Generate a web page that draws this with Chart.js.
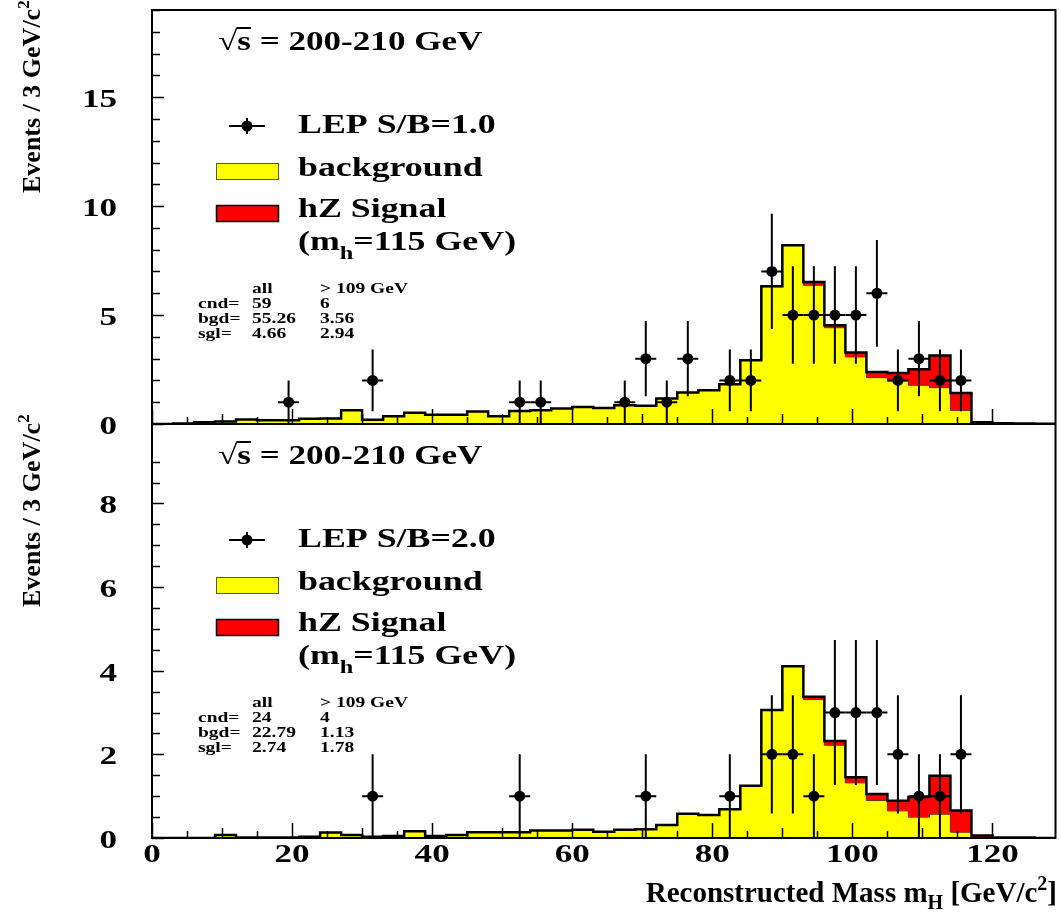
<!DOCTYPE html>
<html>
<head>
<meta charset="utf-8">
<script src="https://cdn.jsdelivr.net/npm/chart.js@4.4.1/dist/chart.umd.min.js"></script>
<style>
  html, body { margin: 0; padding: 0; background: #fff; }
</style>
</head>
<body>
<canvas id="mass" width="1061" height="913"></canvas>
<script>
// left edges of the 3 GeV mass bins
const binLow = [0, 3, 6, 9, 12, 15, 18, 21, 24, 27, 30, 33, 36, 39, 42, 45, 48, 51, 54, 57,
  60, 63, 66, 69, 72, 75, 78, 81, 84, 87, 90, 93, 96, 99, 102, 105, 108, 111, 114, 117,
  120, 123, 126];
const binWidth = 3;

// S/B = 1.0 selection
const bgTop = [0, 0.02, 0.08, 0.12, 0.21, 0.17, 0.17, 0.24, 0.25, 0.63, 0.20, 0.35, 0.52, 0.43, 0.43, 0.57, 0.35, 0.60, 0.63, 0.71,
  0.78, 0.73, 0.86, 0.84, 1.17, 1.44, 1.55, 1.82, 2.92, 6.30, 8.20, 6.37, 4.42, 3.08, 2.13, 1.98, 1.78, 1.67, 0.63, 0.05,
  0.03, 0.02, 0.01];
const sigTop = [0, 0, 0, 0, 0, 0, 0, 0, 0, 0, 0, 0, 0, 0, 0, 0, 0, 0, 0, 0,
  0, 0, 0, 0, 0, 0, 0, 0, 0, 0.02, 0, 0.15, 0.11, 0.20, 0.26, 0.36, 0.73, 1.47, 0.79, 0.03,
  0, 0, 0];
const candMassTop = [19.5, 31.5, 52.5, 55.5, 67.5, 70.5, 73.5, 76.5, 82.5, 85.5, 88.5, 91.5, 94.5, 97.5, 100.5, 103.5, 106.5, 109.5, 112.5, 115.5];
const candTop = [1, 2, 1, 1, 1, 3, 1, 3, 2, 2, 7, 5, 5, 5, 5, 6, 2, 3, 2, 2];

// S/B = 2.0 selection
const bgBot = [0, 0, 0, 0.07, 0.01, 0.01, 0.01, 0.03, 0.13, 0.07, 0.03, 0.05, 0.16, 0.05, 0.07, 0.14, 0.14, 0.14, 0.18, 0.18,
  0.20, 0.15, 0.20, 0.21, 0.31, 0.58, 0.55, 0.69, 1.25, 3.06, 4.11, 3.31, 2.22, 1.32, 0.90, 0.65, 0.50, 0.57, 0.14, 0.02,
  0.01, 0.01, 0];
const sigBot = [0, 0, 0, 0, 0, 0, 0, 0, 0, 0, 0, 0, 0, 0, 0, 0, 0, 0, 0, 0,
  0, 0, 0, 0, 0, 0, 0, 0, 0, 0, 0, 0.07, 0.10, 0.13, 0.15, 0.24, 0.48, 0.92, 0.52, 0.04,
  0, 0, 0];
const candMassBot = [31.5, 52.5, 70.5, 82.5, 88.5, 91.5, 94.5, 97.5, 100.5, 103.5, 106.5, 109.5, 112.5, 115.5];
const candBot = [1, 1, 1, 1, 2, 2, 1, 3, 3, 3, 2, 1, 1, 2];

// text blocks
const sbLabels = ['LEP S/B=1.0', 'LEP S/B=2.0'];
const statNames = ['cnd=', 'bgd=', 'sgl='];
const statHead = ['all', '> 109 GeV'];
const statsTop = [['59', '6'], ['55.26', '3.56'], ['4.66', '2.94']];
const statsBot = [['24', '4'], ['22.79', '1.13'], ['2.74', '1.78']];

const YELLOW = '#ffff00';
const RED = '#ff0000';
const SX = 1.3;   // horizontal stretch of the serif labels

function font(size) {
  return 'bold ' + size + 'px "Liberation Serif", "Times New Roman", serif';
}

// draws a run of [text, size, dy] pieces, returns where each piece went
function drawParts(ctx, parts, x, y, sx, align) {
  let w = 0;
  parts.forEach(p => { ctx.font = font(p[1]); w += ctx.measureText(p[0]).width * sx; });
  let cx = align === 'right' ? x - w : align === 'center' ? x - w / 2 : x;
  const starts = [];
  parts.forEach(p => {
    ctx.font = font(p[1]);
    const pw = ctx.measureText(p[0]).width * sx;
    starts.push([cx, pw]);
    ctx.save();
    ctx.translate(cx, y + (p[2] || 0));
    ctx.scale(sx, 1);
    ctx.textAlign = 'left';
    ctx.textBaseline = 'alphabetic';
    ctx.fillText(p[0], 0, 0);
    ctx.restore();
    cx += pw;
  });
  return starts;
}

function steps(vals) {
  const pts = binLow.map((x, i) => ({x: x, y: vals[i]}));
  pts.push({x: binLow[binLow.length - 1] + binWidth, y: vals[vals.length - 1]});
  return pts;
}

const totTop = bgTop.map((v, i) => v + sigTop[i]);
const totBot = bgBot.map((v, i) => v + sigBot[i]);

function histo(vals, axis, color, lineColor, lineWidth, fill) {
  return {
    data: steps(vals), yAxisID: axis, stepped: true, pointRadius: 0,
    borderColor: lineColor, borderWidth: lineWidth, backgroundColor: color, fill: fill
  };
}

function cands(xs, ns, axis) {
  return {
    data: xs.map((x, i) => ({x: x, y: ns[i]})), yAxisID: axis, showLine: false,
    pointRadius: 5.5, pointBackgroundColor: '#000', pointBorderWidth: 0, errorBars: true
  };
}

// sqrt(n) vertical bars and bin-width horizontal bars on the candidates
const errorBarPlugin = {
  id: 'errorBars',
  afterDatasetsDraw(chart) {
    const ctx = chart.ctx;
    const xs = chart.scales.x;
    ctx.save();
    ctx.strokeStyle = '#000';
    ctx.lineWidth = 2;
    chart.data.datasets.forEach(ds => {
      if (!ds.errorBars) return;
      const ys = chart.scales[ds.yAxisID];
      ds.data.forEach(p => {
        const e = Math.sqrt(p.y);
        ctx.beginPath();
        ctx.moveTo(xs.getPixelForValue(p.x), ys.getPixelForValue(p.y - e));
        ctx.lineTo(xs.getPixelForValue(p.x), ys.getPixelForValue(p.y + e));
        ctx.moveTo(xs.getPixelForValue(p.x - binWidth / 2), ys.getPixelForValue(p.y));
        ctx.lineTo(xs.getPixelForValue(p.x + binWidth / 2), ys.getPixelForValue(p.y));
        ctx.stroke();
      });
    });
    ctx.restore();
  }
};

function drawPanelText(ctx, top, sb, stats) {
  ctx.fillStyle = '#000';
  // sqrt(s) line
  const s = drawParts(ctx, [['\u221As', 27], [' = 200-210 GeV', 27]], 218, top + 40, SX, 'left');
  ctx.font = font(27);
  const rootW = ctx.measureText('\u221A').width * SX;
  ctx.lineWidth = 2;
  ctx.beginPath();
  ctx.moveTo(s[0][0] + rootW - 1, top + 18);
  ctx.lineTo(s[0][0] + s[0][1], top + 18);
  ctx.stroke();

  // legend: candidates marker
  const my = top + 116;
  ctx.strokeStyle = '#000';
  ctx.lineWidth = 2;
  ctx.beginPath();
  ctx.moveTo(229, my); ctx.lineTo(265, my);
  ctx.moveTo(247, my - 8); ctx.lineTo(247, my + 8);
  ctx.stroke();
  ctx.beginPath();
  ctx.arc(247, my, 5.5, 0, Math.PI * 2);
  ctx.fill();
  drawParts(ctx, [[sb, 28]], 298, top + 123, 1.28, 'left');

  // legend: background box
  ctx.fillStyle = YELLOW;
  ctx.fillRect(216, top + 153, 63, 17);
  ctx.strokeStyle = '#555';
  ctx.lineWidth = 1;
  ctx.strokeRect(216.5, top + 153.5, 62, 16);
  ctx.fillStyle = '#000';
  drawParts(ctx, [['background', 28]], 298, top + 166, 1.28, 'left');

  // legend: signal box
  ctx.fillStyle = RED;
  ctx.fillRect(216, top + 195, 63, 17);
  ctx.strokeStyle = '#000';
  ctx.lineWidth = 1.5;
  ctx.strokeRect(216.5, top + 195.5, 62, 16);
  ctx.fillStyle = '#000';
  drawParts(ctx, [['hZ Signal', 28]], 298, top + 207, 1.28, 'left');
  drawParts(ctx, [['(m', 28], ['h', 19, 9], ['=115 GeV)', 28]], 298, top + 240, 1.28, 'left');

  // event count table
  drawParts(ctx, [[statHead[0], 15]], 252, top + 283, SX, 'left');
  drawParts(ctx, [[statHead[1], 15]], 320, top + 283, SX, 'left');
  statNames.forEach((name, r) => {
    const y = top + 298 + r * 15;
    drawParts(ctx, [[name, 15]], 198, y, SX, 'left');
    drawParts(ctx, [[stats[r][0], 15]], 252, y, SX, 'left');
    drawParts(ctx, [[stats[r][1], 15]], 320, y, SX, 'left');
  });
}

const framePlugin = {
  id: 'frame',
  afterDraw(chart) {
    const ctx = chart.ctx;
    const xs = chart.scales.x;
    const yt = chart.scales.yTop;
    const yb = chart.scales.yBot;
    const area = chart.chartArea;
    ctx.save();
    ctx.strokeStyle = '#000';
    ctx.fillStyle = '#000';

    // x ticks on the bottom edge of each panel
    ctx.lineWidth = 1.5;
    [yt, yb].forEach(ys => {
      xs.ticks.forEach(t => {
        if (t.value % 5 !== 0) return;
        const px = Math.round(xs.getPixelForValue(t.value)) + 0.5;
        const len = t.value % 20 === 0 ? 15 : (t.value % 10 === 0 ? 10 : 7);
        ctx.beginPath();
        ctx.moveTo(px, ys.bottom);
        ctx.lineTo(px, ys.bottom - len);
        ctx.stroke();
      });
    });

    // y ticks and labels
    [[yt, 1, 5], [yb, 0.5, 2]].forEach(([ys, minor, major]) => {
      ys.ticks.forEach(t => {
        const v = Math.round(t.value * 100) / 100;
        if (Math.abs(v / minor - Math.round(v / minor)) > 1e-6) return;
        const py = Math.round(ys.getPixelForValue(v)) + 0.5;
        const isMajor = Math.abs(v / major - Math.round(v / major)) < 1e-6;
        ctx.beginPath();
        ctx.moveTo(area.left, py);
        ctx.lineTo(area.left + (isMajor ? 12 : 8), py);
        ctx.stroke();
        if (isMajor) drawParts(ctx, [[String(v), 26]], 117, py + 9, 1.35, 'right');
      });
    });

    // x tick labels
    xs.ticks.forEach(t => {
      if (t.value % 20 !== 0) return;
      drawParts(ctx, [[String(t.value), 26]], xs.getPixelForValue(t.value), 862, 1.35, 'center');
    });

    // frame and panel divider
    ctx.lineWidth = 2;
    ctx.strokeRect(area.left, area.top, area.right - area.left, area.bottom - area.top);
    ctx.beginPath();
    ctx.moveTo(area.left, yt.bottom);
    ctx.lineTo(area.right, yt.bottom);
    ctx.stroke();

    // axis titles
    drawParts(ctx, [['Reconstructed Mass m', 29], ['H', 20, 7], [' [GeV/c', 29], ['2', 20, -12], [']', 29]], 1057, 902, 1, 'right');
    [yt, yb].forEach(ys => {
      ctx.save();
      ctx.translate(40, ys.bottom - 231);
      ctx.rotate(-Math.PI / 2);
      drawParts(ctx, [['Events / 3 GeV/c', 26], ['2', 17, -11]], 0, 0, 1, 'left');
      ctx.restore();
    });

    drawPanelText(ctx, yt.top, sbLabels[0], statsTop);
    drawPanelText(ctx, yb.top, sbLabels[1], statsBot);
    ctx.restore();
  }
};

new Chart(document.getElementById('mass').getContext('2d'), {
  type: 'line',
  data: {
    datasets: [
      cands(candMassTop, candTop, 'yTop'),
      cands(candMassBot, candBot, 'yBot'),
      histo(totTop, 'yTop', RED, '#000', 2.5, '+1'),
      histo(bgTop, 'yTop', YELLOW, '#222', 1, 'origin'),
      histo(totBot, 'yBot', RED, '#000', 2.5, '+1'),
      histo(bgBot, 'yBot', YELLOW, '#222', 1, 'origin')
    ]
  },
  options: {
    responsive: false,
    devicePixelRatio: 1,
    animation: false,
    events: [],
    layout: { padding: { top: 10, right: 1, left: 0, bottom: 0 } },
    elements: { line: { tension: 0 } },
    plugins: { legend: { display: false }, tooltip: { enabled: false } },
    scales: {
      x: {
        type: 'linear', min: 0, max: 129,
        ticks: { stepSize: 5, display: false },
        grid: { display: false }, border: { display: false },
        afterFit(scale) { scale.height = 75; }
      },
      yTop: {
        type: 'linear', position: 'left', stack: 'panels', stackWeight: 1, weight: 2,
        min: 0, max: 19,
        ticks: { stepSize: 1, display: false },
        grid: { display: false }, border: { display: false },
        afterFit(scale) { scale.width = 152; }
      },
      yBot: {
        type: 'linear', position: 'left', stack: 'panels', stackWeight: 1, weight: 1,
        min: 0, max: 9.9,
        ticks: { stepSize: 0.5, display: false },
        grid: { display: false }, border: { display: false },
        afterFit(scale) { scale.width = 152; }
      }
    }
  },
  plugins: [errorBarPlugin, framePlugin]
});
</script>
</body>
</html>
